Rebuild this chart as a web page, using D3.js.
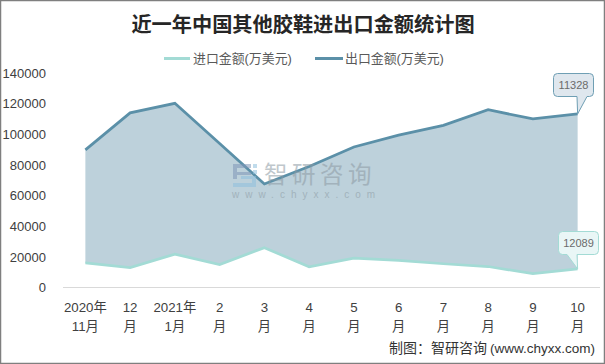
<!DOCTYPE html>
<html>
<head>
<meta charset="utf-8">
<script src="https://cdn.jsdelivr.net/npm/d3@7"></script>
<style>
html, body { margin: 0; padding: 0; background: #fff; }
svg { display: block; font-family: "Liberation Sans", "Noto Sans CJK SC", sans-serif; }
</style>
</head>
<body>
<div id="chart"></div>
<script>
const chartTitle = "近一年中国其他胶鞋进出口金额统计图";
const seriesNames = ["进口金额(万美元)", "出口金额(万美元)"];
const monthLine1 = ["2020年", "12", "2021年", "2", "3", "4", "5", "6", "7", "8", "9", "10"];
const monthLine2 = ["11月", "月", "1月", "月", "月", "月", "月", "月", "月", "月", "月", "月"];
const importValues = [16000, 13000, 21800, 15000, 26000, 13500, 19200, 17700, 15500, 13700, 9000, 12089];
const exportValues = [89800, 114000, 120200, 94000, 67600, 79000, 91700, 99500, 105800, 116000, 110000, 113280];
const yTicks = [0, 20000, 40000, 60000, 80000, 100000, 120000, 140000];
const importLabel = "12089";
const exportLabel = "11328";

const width = 605, height = 364;
const importColor = "#a3dbd5", exportColor = "#5b90a8", areaColor = "#bdd1db";

const svg = d3.select("#chart")
    .append("svg")
    .attr("width", width)
    .attr("height", height);

// outer frame
svg.append("rect")
    .attr("x", 0.5).attr("y", 0.5)
    .attr("width", width - 1).attr("height", height - 1)
    .attr("fill", "#fff")
    .attr("stroke", "#7f7f7f")
    .attr("stroke-width", 1.5);

const x = d3.scaleBand()
    .domain(d3.range(monthLine1.length))
    .range([63, 600]);

const y = d3.scaleLinear()
    .domain([0, 140000])
    .range([287.5, 73]);

const cx = i => x(i) + x.bandwidth() / 2;

// title
svg.append("text")
    .attr("x", 303)
    .attr("y", 32)
    .attr("text-anchor", "middle")
    .attr("font-family", "'Noto Sans CJK SC'")
    .attr("font-size", 20.2)
    .attr("font-weight", 700)
    .attr("fill", "#262626")
    .text(chartTitle);

// legend
const legendX = [[164, 190, 193], [315, 343, 345]];
seriesNames.forEach((name, i) => {
    svg.append("line")
        .attr("x1", legendX[i][0]).attr("x2", legendX[i][1])
        .attr("y1", 58.5).attr("y2", 58.5)
        .attr("stroke", i === 0 ? importColor : exportColor)
        .attr("stroke-width", 3);
    svg.append("text")
        .attr("x", legendX[i][2])
        .attr("y", 63)
        .attr("font-size", 12.9)
        .attr("fill", "#595959")
        .text(name);
});

// area between the two series
const band = d3.area()
    .x((d, i) => cx(i))
    .y0((d, i) => y(importValues[i]))
    .y1(d => y(d));

svg.append("path")
    .datum(exportValues)
    .attr("d", band)
    .attr("fill", areaColor);

// y axis
const yAxis = svg.append("g")
    .attr("transform", "translate(46,0)")
    .call(d3.axisLeft(y).tickValues(yTicks).tickSize(0).tickPadding(0).tickFormat(d3.format("d")));
yAxis.select(".domain").remove();
yAxis.selectAll("text")
    .attr("font-size", 13)
    .attr("font-family", "'Liberation Sans'")
    .attr("fill", "#404040");

// baseline + month labels
svg.append("line")
    .attr("x1", 63).attr("x2", 600)
    .attr("y1", y(0)).attr("y2", y(0))
    .attr("stroke", "#d9d9d9")
    .attr("stroke-width", 1);

const monthText = svg.append("g")
    .selectAll("text")
    .data(monthLine1)
    .join("text")
    .attr("text-anchor", "middle")
    .attr("font-size", 13.3)
    .attr("fill", "#404040");

monthText.append("tspan")
    .attr("x", (d, i) => cx(i))
    .attr("y", 311.5)
    .text(d => d);

monthText.append("tspan")
    .attr("x", (d, i) => cx(i))
    .attr("y", 331)
    .text((d, i) => monthLine2[i]);

// series lines
const line = d3.line()
    .x((d, i) => cx(i))
    .y(d => y(d));

svg.append("path")
    .datum(importValues)
    .attr("d", line)
    .attr("fill", "none")
    .attr("stroke", importColor)
    .attr("stroke-width", 2.75);

svg.append("path")
    .datum(exportValues)
    .attr("d", line)
    .attr("fill", "none")
    .attr("stroke", exportColor)
    .attr("stroke-width", 2.75);

// watermark
const mark = svg.append("g").attr("opacity", 0.55);
mark.append("text")
    .attr("x", 264)
    .attr("y", 183)
    .attr("font-family", "'Noto Sans CJK SC'")
    .attr("font-size", 23.5)
    .attr("letter-spacing", 4.5)
    .attr("fill", "#8c9aa3")
    .text("智研咨询");
mark.append("text")
    .attr("x", 232)
    .attr("y", 198)
    .attr("font-size", 10)
    .attr("letter-spacing", 6)
    .attr("fill", "#8c9aa3")
    .text("www.chyxx.com");
mark.append("path")
    .attr("d", "M233 164h18v4h-14v4h14v3h-14v4h-4z")
    .attr("fill", "#7f96b8");
mark.append("path")
    .attr("d", "M241 176h15v11h-23v-4h19v-4h-11zM253 164h4v4h-4zM253 170h4v4h-4z")
    .attr("fill", "#8fc0de");

// callouts on the last point
function callout(px, py, box, tail, fill, stroke, label) {
    const r = 4;
    const p = d3.path();
    p.moveTo(box.x + r, box.y);
    p.lineTo(box.x + box.w - r, box.y);
    p.quadraticCurveTo(box.x + box.w, box.y, box.x + box.w, box.y + r);
    p.lineTo(box.x + box.w, box.y + box.h - r);
    p.quadraticCurveTo(box.x + box.w, box.y + box.h, box.x + box.w - r, box.y + box.h);
    p.lineTo(tail[1], box.y + box.h);
    p.lineTo(px, py);
    p.lineTo(tail[0], box.y + box.h);
    p.lineTo(box.x + r, box.y + box.h);
    p.quadraticCurveTo(box.x, box.y + box.h, box.x, box.y + box.h - r);
    p.lineTo(box.x, box.y + r);
    p.quadraticCurveTo(box.x, box.y, box.x + r, box.y);
    p.closePath();
    svg.append("path")
        .attr("d", p.toString())
        .attr("fill", fill)
        .attr("stroke", stroke)
        .attr("stroke-width", 1);
    svg.append("text")
        .attr("x", box.x + box.w / 2)
        .attr("y", box.y + box.h / 2 + 4)
        .attr("text-anchor", "middle")
        .attr("font-size", 11)
        .attr("fill", "#6b6b6b")
        .text(label);
}

const last = monthLine1.length - 1;
callout(cx(last), y(exportValues[last]), {x: 553.5, y: 73.5, w: 40, h: 23}, [577, 587], "#dfe7ee", "#6f9fb4", exportLabel);
callout(cx(last), y(importValues[last]), {x: 558.5, y: 231.5, w: 40, h: 23}, [567, 577], "#e9f6f6", "#a3dbd5", importLabel);

// source note
const note = svg.append("text")
    .attr("x", 389)
    .attr("y", 353)
    .attr("fill", "#333");
note.append("tspan")
    .attr("font-size", 14)
    .text("制图：智研咨询");
note.append("tspan")
    .attr("x", 490)
    .attr("font-size", 13.5)
    .text("(www.chyxx.com)");
</script>
</body>
</html>
